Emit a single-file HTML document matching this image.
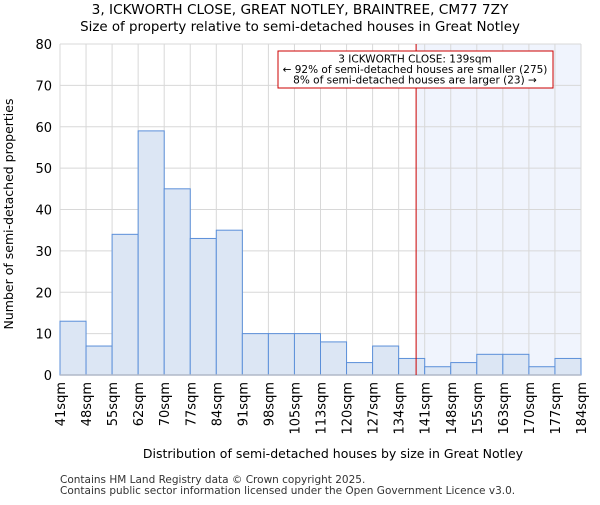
<!DOCTYPE html>
<html><head><meta charset="utf-8"><style>body{margin:0;background:#fff}svg{font-family:"DejaVu Sans","Liberation Sans",sans-serif}</style></head>
<body>
<svg id="chart" width="600" height="500" viewBox="0 0 600 500">
<text x="300" y="14" text-anchor="middle" font-size="13.7">3, ICKWORTH CLOSE, GREAT NOTLEY, BRAINTREE, CM77 7ZY</text>
<text x="300" y="31" text-anchor="middle" font-size="13.4">Size of property relative to semi-detached houses in Great Notley</text>
<g id="plot"></g>
<text x="333" y="458" text-anchor="middle" font-size="12.5">Distribution of semi-detached houses by size in Great Notley</text>
<text transform="translate(13,214) rotate(-90)" text-anchor="middle" font-size="12.5">Number of semi-detached properties</text>
<text x="60" y="483" font-size="10.5" fill="#333">Contains HM Land Registry data © Crown copyright 2025.</text>
<text x="60" y="494" font-size="10.5" fill="#333">Contains public sector information licensed under the Open Government Licence v3.0.</text>
</svg>
<script>
const binLabels = ["41sqm","48sqm","55sqm","62sqm","70sqm","77sqm","84sqm","91sqm","98sqm","105sqm","113sqm","120sqm","127sqm","134sqm","141sqm","148sqm","155sqm","163sqm","170sqm","177sqm","184sqm"];
const counts = [13,7,34,59,45,33,35,10,10,10,8,3,7,4,2,3,5,5,2,4];
const yTicks = [0,10,20,30,40,50,60,70,80];
const markerBin = 13.67;
const NS="http://www.w3.org/2000/svg";
const g=document.getElementById('plot');
const x0=60,x1=581,yTop=44,yBot=375,yMax=80;
const bw=(x1-x0)/counts.length;
const X=i=>x0+i*bw;
const Y=v=>yBot-(v/yMax)*(yBot-yTop);
function mk(t,a,p){const e=document.createElementNS(NS,t);for(const k in a)e.setAttribute(k,a[k]);(p||g).appendChild(e);return e;}
const hl=mk('rect',{x:X(markerBin),y:yTop,width:x1-X(markerBin),height:yBot-yTop,fill:'#f0f4fd'});


for(let i=0;i<binLabels.length;i++){const l=mk('line',{x1:X(i),x2:X(i),y1:yTop,y2:yBot,stroke:'#d8d8d8','stroke-width':1});

}
yTicks.forEach(v=>{const l=mk('line',{x1:x0,x2:x1,y1:Y(v),y2:Y(v),stroke:'#d8d8d8','stroke-width':1});


const t=mk('text',{x:x0-8,y:Y(v)+5,'text-anchor':'end','font-size':13});t.textContent=v;

});
counts.forEach((c,i)=>{const r=mk('rect',{x:X(i),y:Y(c),width:bw,height:yBot-Y(c),fill:'#dce6f4',stroke:'#5b8fd9','stroke-width':1});

});
mk('line',{x1:x0,x2:x1,y1:yBot,y2:yBot,stroke:'#b0b8c8','stroke-width':1.5});
binLabels.forEach((s,i)=>{const t=mk('text',{transform:`translate(${X(i)+5},382) rotate(-90)`,'text-anchor':'end','font-size':13});t.textContent=s;

});
const ml=mk('line',{x1:X(markerBin),x2:X(markerBin),y1:yTop,y2:yBot,stroke:'#cc0000','stroke-width':1});


const box=mk('rect',{x:278,y:51,width:275,height:37,fill:'#fff',stroke:'#cc0000','stroke-width':1});


["3 ICKWORTH CLOSE: 139sqm","← 92% of semi-detached houses are smaller (275)","8% of semi-detached houses are larger (23) →"].forEach((s,i)=>{const t=mk('text',{x:415,y:62.5+i*10.5,'text-anchor':'middle','font-size':10.5});t.textContent=s;

});
</script>
</body></html>
